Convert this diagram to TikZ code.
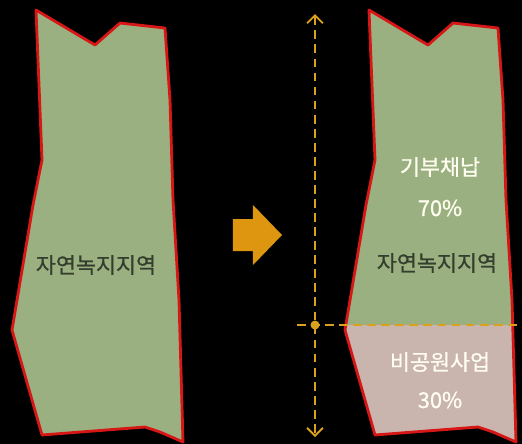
\documentclass[tikz,border=0pt]{standalone}
\usepackage{fontspec}
\newfontfamily\kr{Noto Sans CJK KR}[FakeBold=0.8]
\usetikzlibrary{arrows.meta,calc}
\definecolor{zonegreen}{RGB}{155,176,128}
\definecolor{zonepink}{RGB}{201,180,174}
\definecolor{zonered}{RGB}{215,22,22}
\definecolor{guidegold}{RGB}{218,162,28}
\definecolor{arroworange}{RGB}{222,150,16}
\definecolor{labeldark}{RGB}{52,62,46}
\tikzset{>=Straight Barb}
\tikzset{
  zoneline/.style={draw=zonered, line width=1.6pt, line join=round},
  guideline/.style={draw=guidegold, line width=1.1pt, dash pattern=on 5pt off 3pt},
  darklabel/.style={text=labeldark, font=\kr\fontsize{12.4}{15}\selectfont, inner sep=0pt},
  lightlabel/.style={text=white!94!yellow, font=\kr\fontsize{12.4}{15}\selectfont, inner sep=0pt}
}
\def\zonepath{(36,10) -- (95,45) -- (120,23) -- (165,28) -- (170,100) -- (173,200)
  -- (179,300) -- (183,442) -- (160,432) -- (145,427) -- (42,435) -- (12,330)
  -- (33,205) -- (42,160) -- cycle}
\begin{document}
\begin{tikzpicture}[x=0.02cm, y=-0.02cm]
                % Frame (pixels of the original, y pointing down)
                \fill[black] (0,0) rectangle (522,444);
                \useasboundingbox (0,0) rectangle (522,444);
                \def\cut{325}
                \coordinate (axtop) at (315,14);
                \coordinate (axbot) at (315,437);
                \coordinate (axmid) at (315,\cut);
                \coordinate (cutL) at (297,\cut);
                \coordinate (cutR) at (522,\cut);

                % Before: whole zone
                \fill[zonegreen] \zonepath;
                \draw[zoneline] \zonepath;
                \node[darklabel] (natL) at (96,265) {자연녹지지역};

                % Transition arrow
                \fill[arroworange] (233,219) -- (253,219) -- (253,205) -- (282,235)
                    -- (253,265) -- (253,251) -- (233,251) -- cycle;

                % After: zone split at the cut line
                \begin{scope}[shift={(333,0)}]
                    \fill[zonegreen] \zonepath;
                    \begin{scope}
                        \clip \zonepath;
                        \fill[zonepink] (-20,\cut) rectangle (200,450);
                    \end{scope}
                    \draw[zoneline] \zonepath;
                \end{scope}
                \node[lightlabel] (donate) at (440,167) {기부채납};
                \node[lightlabel] (donatepct) at (440,208) {70\%};
                \node[darklabel] (natR) at (437,263) {자연녹지지역};
                \node[lightlabel] (nonpark) at (440,362) {비공원사업};
                \node[lightlabel] (nonparkpct) at (440,400) {30\%};

                % Guides
                \draw[guideline] (cutL) -- (cutR);
                \draw[guideline, {Straight Barb[length=4.5pt,width=9pt,line width=1.1pt]}-{Straight Barb[length=4.5pt,width=9pt,line width=1.1pt]}] (axtop) -- (axbot);
                \fill[guidegold] (axmid) circle (4.5);
\end{tikzpicture}
\end{document}
